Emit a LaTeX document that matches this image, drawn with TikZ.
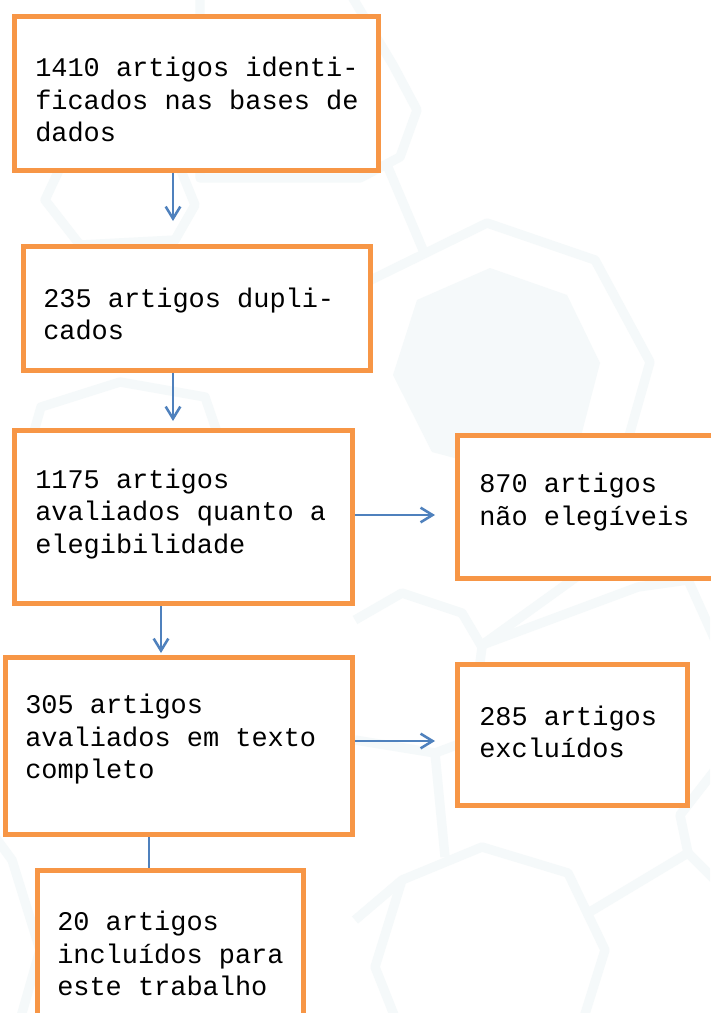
\documentclass[tikz,border=0pt]{standalone}
\usepackage{fontspec}
\setmonofont{Liberation Mono}
\usetikzlibrary{arrows.meta,fit}
\definecolor{boxorange}{HTML}{F79646}
\definecolor{arrowblue}{HTML}{4F81BD}
\definecolor{hexbg}{RGB}{245,249,250}
\begin{document}
\begin{tikzpicture}[x=0.75pt,y=-0.75pt,
  box/.style={draw=boxorange, fill=white, line width=3.75pt, inner sep=0pt, rectangle},
  txt/.style={font=\ttfamily\fontsize{20.2pt}{24.3pt}\selectfont, align=left, anchor=west, inner sep=0pt},
  arr/.style={draw=arrowblue, line width=1.9pt, -{Straight Barb[length=9pt,width=11pt,line width=1.9pt]}},
  link/.style={draw=arrowblue, line width=1.9pt},
  hex/.style={draw=hexbg, line width=7pt, line join=round},
  hexfill/.style={fill=hexbg}]
\useasboundingbox (0,0) rectangle (710,1013);
\fill[white] (0,0) rectangle (710,1013);
% faint background hexagons
\begin{scope}
\clip (0,0) rectangle (710,1013);
\fill[hexfill] (417,300) -- (490,268) -- (567,295) -- (600,363) -- (580,440) -- (500,470) -- (432,452) -- (393,375) -- cycle;
\draw[hex] (200,-15) -- (345,-15) -- (393,65) -- (417,110) -- (400,157) -- (360,178) -- (200,178) -- cycle;
\draw[hex] (387,165) -- (423,250);
\draw[hex] (60,168) -- (180,168) -- (195,205) -- (175,240) -- (80,245) -- (45,200) -- cycle;
\draw[hex] (41,407) -- (120,382) -- (205,397) -- (230,470) -- (200,560) -- (60,560) -- (20,480) -- cycle;
\draw[hex] (330,300) -- (487,223) -- (595,260) -- (650,362) -- (625,450) -- (600,560) -- (482,645);
\draw[hex] (355,620) -- (402,593) -- (462,613) -- (482,647) -- (470,740) -- (435,753) -- (355,740);
\draw[hex] (482,645) -- (638,587) -- (688,580) -- (715,640);
\draw[hex] (435,753) -- (445,857);
\draw[hex] (402,880) -- (482,847) -- (568,873) -- (605,950) -- (580,1030) -- (400,1030) -- (375,967) -- cycle;
\draw[hex] (355,920) -- (402,880);
\draw[hex] (588,913) -- (688,853) -- (715,880);
\draw[hex] (688,853) -- (680,815) -- (715,770);
\draw[hex] (-10,830) -- (12,860) -- (40,950) -- (20,1020);
\end{scope}
% boxes
\node[box, fit={(14.5,16.5)(378.5,170.5)}] (b1) {};
\node[box, fit={(23.5,246.5)(370.5,370.5)}] (b2) {};
\node[box, fit={(14.5,430.5)(352.5,603.5)}] (b3) {};
\node[box, fit={(457.5,435.5)(725,578.5)}] (b4) {};
\node[box, fit={(5.5,657.5)(352.5,834.5)}] (b5) {};
\node[box, fit={(457.5,664.5)(687.5,805.5)}] (b6) {};
\node[box, fit={(37.5,870.5)(303.5,1030)}] (b7) {};
% texts
\node[txt] (t1) at (35,99.5) {1410 artigos identi-\\ficados nas bases de\\dados};
\node[txt] (t2) at (43,314) {235 artigos dupli-\\cados};
\node[txt] (t3) at (35,513.7) {1175 artigos\\avaliados quanto a\\elegibilidade};
\node[txt] (t4) at (479,502) {870 artigos\\não elegíveis};
\node[txt] (t5) at (25,739.3) {305 artigos\\avaliados em texto\\completo};
\node[txt] (t6) at (479,731.8) {285 artigos\\excluídos};
\node[txt] (t7) at (57,953.7) {20 artigos\\incluídos para\\este trabalho};
% connectors
\coordinate (a1) at (173,221);
\coordinate (a2) at (173,421);
\coordinate (a3) at (161,653);
\coordinate (a4) at (435,515);
\coordinate (a5) at (435,741);
\coordinate (a6) at (149,868);
\draw[arr] (b1.south -| a1) -- (a1);
\draw[arr] (b2.south -| a2) -- (a2);
\draw[arr] (b3.south -| a3) -- (a3);
\draw[arr] (b3.east |- a4) -- (a4);
\draw[arr] (b5.east |- a5) -- (a5);
\draw[link] (b5.south -| a6) -- (b7.north -| a6);
\end{tikzpicture}
\end{document}
